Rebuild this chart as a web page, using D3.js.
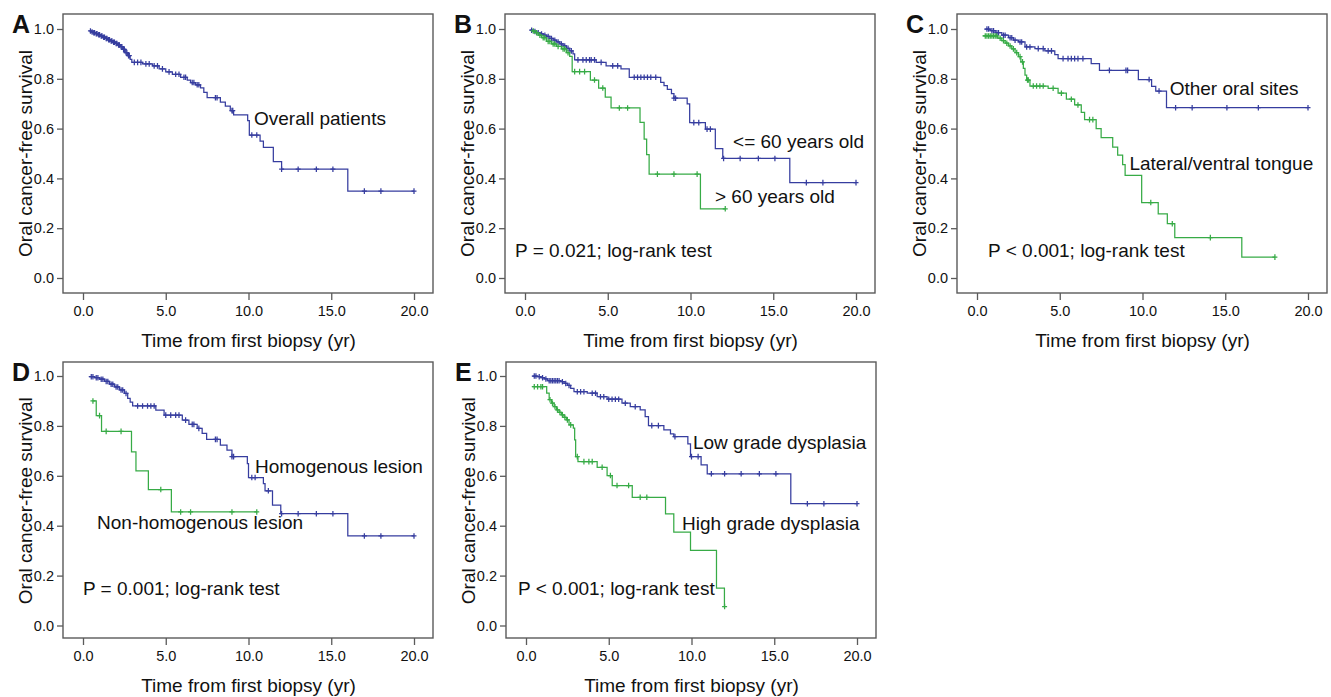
<!DOCTYPE html>
<html><head><meta charset="utf-8">
<script src="https://cdn.jsdelivr.net/npm/d3@7"></script>
<style>
body{margin:0;background:#fff}
svg{display:block}
text{font-family:"Liberation Sans",Arial,Helvetica,sans-serif;fill:#111}
</style>
</head><body>
<svg id="chart" width="1331" height="697"></svg>
<script>
// ---------- tick labels & titles ----------
const xTicks = [0, 5, 10, 15, 20];
const yTicks = [0, 0.2, 0.4, 0.6, 0.8, 1.0];
const xTitle = "Time from first biopsy (yr)";
const yTitle = "Oral cancer-free survival";
const panelLetters = ["A", "B", "C", "D", "E"];

// ---------- A: overall patients ----------
const A_t = [0.38,0.5,0.6,0.75,0.9,1.05,1.2,1.35,1.5,1.65,1.8,1.95,2.1,2.25,2.4,2.55,2.7,2.85,2.95,3.6,4.2,4.6,5.0,5.4,5.9,6.3,6.5,6.8,7.1,7.3,7.5,8.3,8.6,8.9,9.1,9.95,10.05,10.7,10.9,11.5,12.0,16.0];
const A_s = [0.992,0.988,0.985,0.981,0.977,0.972,0.967,0.962,0.957,0.952,0.947,0.942,0.936,0.929,0.918,0.905,0.893,0.878,0.866,0.860,0.852,0.840,0.828,0.818,0.806,0.795,0.785,0.776,0.764,0.745,0.724,0.706,0.690,0.672,0.655,0.632,0.574,0.550,0.525,0.467,0.437,0.349];
const A_c = [0.45,0.55,0.65,0.7,0.8,0.85,0.95,1.0,1.1,1.15,1.25,1.3,1.4,1.45,1.55,1.6,1.7,1.75,1.85,1.9,2.0,2.05,2.15,2.2,2.3,2.35,2.45,2.5,2.6,2.65,2.75,2.8,3.1,3.3,3.5,3.8,4.0,4.3,4.5,4.8,5.2,5.6,5.8,6.1,6.2,6.6,6.7,6.9,7.0,8.0,8.1,9.0,9.05,10.2,10.5,12.0,13.0,14.1,15.1,17.0,18.0,20.0];

// ---------- B: age ----------
const B_young_t = [0.3,0.5,0.7,0.9,1.1,1.3,1.5,1.7,1.9,2.1,2.3,2.5,2.7,2.9,3.0,4.3,4.9,5.8,6.3,8.2,8.4,8.6,8.85,9.0,9.8,9.95,10.9,11.5,11.95,16.0];
const B_young_s = [0.995,0.99,0.985,0.98,0.975,0.97,0.962,0.955,0.948,0.94,0.932,0.922,0.912,0.9,0.876,0.866,0.852,0.840,0.806,0.786,0.773,0.758,0.740,0.722,0.699,0.624,0.598,0.520,0.480,0.383];
const B_young_c = [0.4,0.6,0.8,1.0,1.2,1.4,1.6,1.8,2.0,2.2,2.4,2.6,2.8,3.2,3.5,3.7,3.9,4.0,4.2,4.6,5.3,5.6,6.6,6.8,7.0,7.2,7.4,7.6,7.9,9.0,9.1,10.2,10.5,11.0,11.2,12.0,13.0,14.1,15.1,17.0,18.0,20.0];
const B_old_t = [0.4,0.6,0.8,1.0,1.3,1.6,1.9,2.2,2.5,2.7,2.85,3.95,4.45,4.85,5.2,6.95,7.2,7.35,7.5,10.6];
const B_old_s = [0.992,0.985,0.975,0.965,0.95,0.94,0.93,0.92,0.905,0.89,0.829,0.795,0.763,0.726,0.683,0.625,0.558,0.495,0.417,0.278];
const B_old_c = [0.5,0.7,0.9,1.1,1.2,1.4,1.5,1.7,1.8,2.0,2.3,2.4,2.6,3.0,3.3,3.6,4.2,4.7,5.7,6.2,8.0,9.0,10.4,12.1];

// ---------- C: site ----------
const C_other_t = [0.46,0.8,1.1,1.5,1.9,2.2,2.5,2.9,3.5,4.1,4.7,4.9,6.9,7.4,9.75,10.55,10.8,11.45];
const C_other_s = [1.0,0.993,0.985,0.975,0.965,0.955,0.948,0.928,0.921,0.912,0.897,0.881,0.861,0.834,0.797,0.770,0.751,0.684];
const C_other_c = [0.6,0.7,0.9,1.0,1.2,1.3,1.6,1.7,2.0,2.1,2.3,2.6,2.7,3.0,3.2,3.7,4.0,4.3,4.5,5.2,5.5,5.7,5.9,6.1,6.4,8.0,9.0,9.1,10.4,11.0,12.0,13.0,15.1,17.0,20.0];
const C_tongue_t = [0.34,1.25,1.5,1.7,1.9,2.1,2.3,2.5,2.65,2.8,2.9,3.0,3.2,4.3,4.9,5.4,5.9,6.3,6.5,7.2,7.5,8.2,8.5,8.8,8.95,9.95,10.95,11.5,11.95,16.0];
const C_tongue_s = [0.972,0.963,0.953,0.943,0.932,0.92,0.905,0.889,0.868,0.842,0.815,0.795,0.771,0.762,0.742,0.718,0.695,0.665,0.636,0.600,0.564,0.526,0.493,0.455,0.412,0.303,0.258,0.218,0.162,0.084];
const C_tongue_c = [0.5,0.6,0.7,0.8,0.9,1.0,1.1,1.2,1.4,1.6,1.8,2.0,2.2,2.4,2.6,2.75,3.05,3.1,3.4,3.6,3.8,4.0,4.6,5.1,5.7,6.1,6.8,7.0,10.5,11.8,14.1,18.0];

// ---------- D: lesion type ----------
const D_homo_t = [0.36,0.7,1.0,1.3,1.6,1.9,2.2,2.5,2.7,2.85,3.0,4.4,4.9,6.0,6.4,6.9,7.2,7.47,8.3,8.7,9.0,9.93,10.0,10.9,11.0,11.45,11.95,16.0];
const D_homo_s = [0.997,0.993,0.987,0.978,0.967,0.956,0.944,0.93,0.91,0.895,0.88,0.863,0.843,0.823,0.806,0.790,0.770,0.746,0.723,0.703,0.677,0.649,0.593,0.569,0.540,0.482,0.448,0.359];
const D_homo_c = [0.5,0.6,0.8,0.9,1.1,1.2,1.4,1.5,1.7,1.8,2.0,2.1,2.3,2.4,2.6,3.3,3.6,3.9,4.1,4.3,5.0,5.3,5.6,5.8,6.2,6.6,6.7,7.0,8.0,8.1,9.0,9.1,10.2,10.4,11.2,12.0,13.0,14.1,15.1,17.0,18.0,20.0];
const D_non_t = [0.59,0.8,1.12,2.93,3.2,3.95,5.34];
const D_non_s = [0.9,0.841,0.778,0.696,0.620,0.545,0.455];
const D_non_c = [0.6,1.0,1.4,2.3,4.7,5.9,6.5,9.0,10.5];

// ---------- E: dysplasia grade ----------
const E_low_t = [0.38,0.7,0.9,1.1,1.3,2.1,2.3,2.5,2.7,2.9,3.7,4.3,4.9,5.8,6.3,6.9,7.2,7.4,8.33,8.73,8.93,9.78,9.94,10.58,10.95,16.0];
const E_low_s = [1.0,0.997,0.993,0.988,0.981,0.977,0.970,0.962,0.950,0.937,0.931,0.917,0.907,0.891,0.877,0.864,0.837,0.801,0.784,0.768,0.757,0.728,0.677,0.644,0.608,0.488];
const E_low_c = [0.5,0.6,0.8,1.0,1.2,1.4,1.5,1.6,1.7,1.8,1.9,2.0,2.2,2.4,2.6,3.1,3.3,3.5,4.0,4.2,4.5,4.7,5.0,5.2,5.4,5.6,6.0,6.6,7.6,8.0,9.0,10.0,10.4,11.2,12.0,13.0,14.1,15.1,17.0,18.0,20.0];
const E_high_t = [0.38,1.25,1.4,1.55,1.7,1.85,2.0,2.15,2.3,2.45,2.6,2.86,2.94,3.0,3.14,4.3,4.9,5.21,6.42,8.43,8.93,9.94,11.51,11.99];
const E_high_s = [0.957,0.931,0.905,0.891,0.877,0.864,0.854,0.844,0.834,0.824,0.804,0.791,0.744,0.677,0.657,0.634,0.601,0.561,0.514,0.447,0.374,0.301,0.150,0.076];
const E_high_c = [0.5,0.7,0.9,1.0,1.45,1.6,1.75,1.9,2.05,2.2,2.35,2.5,2.7,3.1,3.5,3.8,4.0,4.6,5.1,5.5,6.2,6.9,7.3,12.0];

// ---------- annotation texts ----------
const labelA = ["Overall patients"];
const labelB = ["<= 60 years old", "> 60 years old", "P = 0.021; log-rank test"];
const labelC = ["Other oral sites", "Lateral/ventral tongue", "P < 0.001; log-rank test"];
const labelD = ["Homogenous lesion", "Non-homogenous lesion", "P = 0.001; log-rank test"];
const labelE = ["Low grade dysplasia", "High grade dysplasia", "P < 0.001; log-rank test"];

// ---------- styling / layout ----------
const BLUE = "#363d9f", GREEN = "#37ab46";
const rows = [
  {top: 14, bottom: 293, y1: 29, y0: 278},
  {top: 362, bottom: 638, y1: 376, y0: 625.5}
];
const panels = [
  {left: 63, row: 0, curves: [[A_t, A_s, A_c, BLUE]],
   labels: [[labelA[0], 10.33, 0.614]]},
  {left: 505, row: 0, curves: [[B_young_t, B_young_s, B_young_c, BLUE], [B_old_t, B_old_s, B_old_c, GREEN]],
   labels: [[labelB[0], 12.57, 0.522], [labelB[1], 11.48, 0.30], [labelB[2], -0.6, 0.083]]},
  {left: 957, row: 0, curves: [[C_other_t, C_other_s, C_other_c, BLUE], [C_tongue_t, C_tongue_s, C_tongue_c, GREEN]],
   labels: [[labelC[0], 11.64, 0.735], [labelC[1], 9.21, 0.434], [labelC[2], 0.67, 0.083]]},
  {left: 63, row: 1, curves: [[D_homo_t, D_homo_s, D_homo_c, BLUE], [D_non_t, D_non_s, D_non_c, GREEN]],
   labels: [[labelD[0], 10.39, 0.612], [labelD[1], 0.85, 0.386], [labelD[2], 0, 0.123]]},
  {left: 506, row: 1, curves: [[E_low_t, E_low_s, E_low_c, BLUE], [E_high_t, E_high_s, E_high_c, GREEN]],
   labels: [[labelE[0], 10.09, 0.708], [labelE[1], 9.43, 0.381], [labelE[2], -0.48, 0.123]]}
];

const svg = d3.select("#chart");
const fmt = d3.format(".1f");

panels.forEach((p, pi) => {
  const r = rows[p.row];
  const x = d3.scaleLinear().domain([0, 20]).range([p.left + 20, p.left + 351]);
  const y = d3.scaleLinear().domain([0, 1]).range([r.y0, r.y1]);
  const g = svg.append("g");

  // frame
  g.append("rect").attr("x", p.left).attr("y", r.top)
    .attr("width", 370).attr("height", r.bottom - r.top)
    .attr("fill", "none").attr("stroke", "#5a5a5a").attr("stroke-width", 1.4);

  // axes
  const xa = g.append("g").attr("transform", `translate(0,${r.bottom})`)
    .call(d3.axisBottom(x).tickValues(xTicks).tickFormat(fmt).tickSize(7).tickPadding(6));
  const ya = g.append("g").attr("transform", `translate(${p.left},0)`)
    .call(d3.axisLeft(y).tickValues(yTicks).tickFormat(fmt).tickSize(6).tickPadding(3));
  [xa, ya].forEach(a => {
    a.select(".domain").remove();
    a.selectAll(".tick line").attr("stroke", "#5a5a5a").attr("stroke-width", 1.3);
    a.selectAll(".tick text").attr("font-size", "14.5px").attr("fill", "#111")
      .attr("font-family", '"Liberation Sans",Arial,sans-serif');
  });

  // titles
  g.append("text").attr("x", (x(0) + x(20)) / 2).attr("y", r.bottom + 54)
    .attr("text-anchor", "middle").attr("font-size", "19px").text(xTitle);
  g.append("text")
    .attr("transform", `translate(${p.left - 31.5},${(r.y0 + r.y1) / 2}) rotate(-90)`)
    .attr("text-anchor", "middle").attr("font-size", "19px").text(yTitle);
  g.append("text").attr("x", p.left - 51).attr("y", r.top + 19)
    .attr("font-size", "25px").attr("font-weight", "bold").text(panelLetters[pi]);

  // curves
  const line = d3.line().x(d => x(d[0])).y(d => y(d[1])).curve(d3.curveStepAfter);
  p.curves.forEach(([ts, ss, cs, color]) => {
    const pts = ts.map((t, i) => [t, ss[i]]);
    const end = Math.max(d3.max(cs), ts[ts.length - 1]);
    pts.push([end, ss[ss.length - 1]]);
    g.append("path").attr("d", line(pts)).attr("fill", "none")
      .attr("stroke", color).attr("stroke-width", 1.25);
    const survAt = c => {
      const i = d3.bisectRight(ts, c) - 1;
      return ss[Math.max(0, i)];
    };
    g.selectAll(null).data(cs).enter().append("path")
      .attr("d", c => {
        const cx = x(c), cy = y(survAt(c));
        return `M${cx - 2.5},${cy}H${cx + 2.5}M${cx},${cy - 2.8}V${cy + 2.8}`;
      })
      .attr("stroke", color).attr("stroke-width", 1.25).attr("fill", "none");
  });

  // annotations
  p.labels.forEach(([txt, lx, ly]) => {
    g.append("text").attr("x", x(lx)).attr("y", y(ly))
      .attr("font-size", "19px").text(txt);
  });
});
</script>
</body></html>
